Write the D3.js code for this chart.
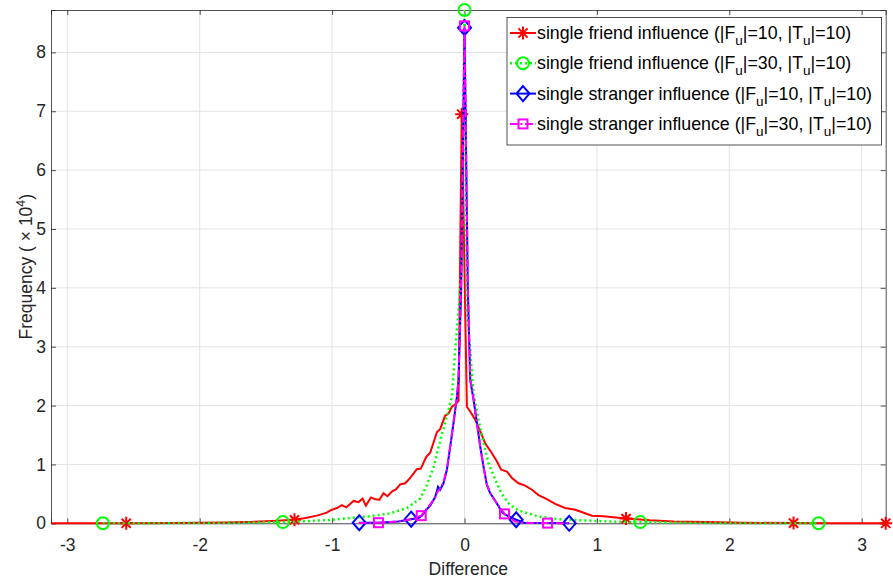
<!DOCTYPE html>
<html>
<head>
<meta charset="utf-8">
<script src="https://cdn.jsdelivr.net/npm/d3@7"></script>
<style>
  body { margin: 0; background: #fff; }
  text { font-family: "Liberation Sans", Arial, sans-serif; }
</style>
</head>
<body>
<div id="chart"></div>
<script>
// data (frequency in units of 10^4)
var xTicks = [-3, -2, -1, 0, 1, 2, 3];
var yTicks = [0, 1, 2, 3, 4, 5, 6, 7, 8];

var redX = [-3.123, -2.555, -2.2, -2.0, -1.8, -1.6, -1.45, -1.284, -1.2, -1.115, -1.04, -1.013, -0.964, -0.926, -0.893,
  -0.838, -0.80, -0.77, -0.745, -0.707, -0.674, -0.642, -0.612, -0.582, -0.548, -0.516, -0.486, -0.448, -0.41, -0.36,
  -0.33, -0.289, -0.259, -0.208, -0.184, -0.146, -0.121, -0.095, -0.07, -0.045, -0.021, 0.018, 0.043, 0.081, 0.119,
  0.156, 0.207, 0.245, 0.277, 0.32, 0.358, 0.408, 0.458, 0.509, 0.559, 0.622, 0.685, 0.76, 0.836, 0.911, 0.962, 1.05,
  1.22, 1.4, 1.58, 1.83, 2.1, 2.485, 2.8, 3.181];
var redY = [0, 0, 0.003, 0.008, 0.015, 0.025, 0.04, 0.06, 0.09, 0.13, 0.18, 0.22, 0.26, 0.31, 0.27,
  0.38, 0.36, 0.42, 0.30, 0.44, 0.41, 0.40, 0.51, 0.46, 0.54, 0.58, 0.66, 0.68, 0.77, 0.92,
  0.93, 1.13, 1.20, 1.55, 1.60, 1.83, 1.86, 1.98, 2.02, 2.08, 6.95, 1.98, 1.90, 1.76, 1.56,
  1.36, 1.19, 1.05, 0.91, 0.88, 0.77, 0.68, 0.64, 0.57, 0.48, 0.41, 0.33, 0.26, 0.23, 0.17, 0.13, 0.12,
  0.08, 0.05, 0.03, 0.02, 0.01, 0.003, 0, 0];
var redMarks = [1, 7, 40, 62, 67, 69];

var greenX = [-2.731, -2.2, -1.8, -1.372, -1.2, -0.99, -0.863, -0.712, -0.561, -0.435, -0.335, -0.284, -0.234, -0.184,
  -0.133, -0.095, -0.07, -0.045, -0.02, 0, 0.018, 0.043, 0.068, 0.106, 0.144, 0.181, 0.232, 0.282, 0.332, 0.383,
  0.434, 0.559, 0.71, 0.887, 1.1, 1.327, 1.8, 2.2, 2.674];
var greenY = [0, 0.003, 0.008, 0.02, 0.035, 0.06, 0.09, 0.12, 0.17, 0.26, 0.42, 0.65, 0.95, 1.40,
  1.82, 2.15, 2.95, 3.62, 4.4, 8.72, 3.62, 2.95, 2.2, 1.76, 1.36, 1.02, 0.74, 0.50, 0.34, 0.25,
  0.20, 0.115, 0.07, 0.05, 0.03, 0.02, 0.008, 0.003, 0];
var greenMarks = [0, 3, 19, 35, 38];

var blueX = [-0.795, -0.65, -0.5, -0.403, -0.347, -0.322, -0.284, -0.259, -0.221, -0.2, -0.184, -0.159, -0.133, -0.108,
  -0.083, -0.057, -0.045, -0.025, 0, 0.025, 0.043, 0.068, 0.094, 0.119, 0.144, 0.169, 0.194, 0.219, 0.257, 0.282,
  0.307, 0.39, 0.45, 0.51, 0.65, 0.791];
var blueY = [0.01, 0.01, 0.03, 0.07, 0.09, 0.13, 0.24, 0.30, 0.45, 0.62, 0.57, 0.68, 0.91, 1.30,
  1.70, 2.15, 2.44, 4.0, 8.42, 4.0, 2.44, 2.10, 1.70, 1.30, 0.96, 0.65, 0.51, 0.43, 0.29, 0.19,
  0.145, 0.06, 0.01, 0.005, 0.003, 0];
var blueMarks = [0, 3, 18, 31, 35];

var magX = [-0.80, -0.65, -0.5, -0.4, -0.327, -0.284, -0.259, -0.221, -0.2, -0.184, -0.159, -0.133, -0.108, -0.083,
  -0.057, -0.045, -0.025, 0, 0.025, 0.043, 0.068, 0.094, 0.119, 0.144, 0.169, 0.194, 0.219, 0.257, 0.302, 0.383,
  0.45, 0.51, 0.627, 0.79];
var magY = [0.005, 0.01, 0.03, 0.07, 0.13, 0.25, 0.32, 0.44, 0.55, 0.58, 0.70, 0.92, 1.31, 1.72,
  2.17, 2.45, 4.1, 8.45, 4.1, 2.45, 2.12, 1.70, 1.30, 0.95, 0.66, 0.52, 0.42, 0.30, 0.16, 0.03,
  0.01, 0.005, 0.003, 0];
var magMarks = [1, 4, 17, 28, 32];

var labels = [
  ['single friend influence (|F', '|=10, |T', '|=10)'],
  ['single friend influence (|F', '|=30, |T', '|=10)'],
  ['single stranger influence (|F', '|=10, |T', '|=10)'],
  ['single stranger influence (|F', '|=30, |T', '|=10)']
];

var width = 893, height = 582;
var margin = {top: 10, right: 7.3, bottom: 58.7, left: 51};
var w = width - margin.left - margin.right,
    h = height - margin.top - margin.bottom;

var svg = d3.select('#chart').append('svg')
    .attr('width', width)
    .attr('height', height);

var g = svg.append('g')
    .attr('transform', 'translate(' + margin.left + ',' + margin.top + ')');

var x = d3.scaleLinear().domain([-3.123, 3.181]).range([0, w]);
var y = d3.scaleLinear().domain([0, 8.72]).range([h, 0]);

var axisColor = '#262626';

// grid
g.selectAll('.gx').data(xTicks).enter().append('line')
    .attr('x1', function(d) { return x(d); }).attr('x2', function(d) { return x(d); })
    .attr('y1', 0).attr('y2', h)
    .attr('stroke', '#e3e3e3').attr('stroke-width', 1);
g.selectAll('.gy').data(yTicks).enter().append('line')
    .attr('y1', function(d) { return y(d); }).attr('y2', function(d) { return y(d); })
    .attr('x1', 0).attr('x2', w)
    .attr('stroke', '#e3e3e3').attr('stroke-width', 1);

// axes
var fmt = function(d) { return String(d); };
g.append('g').attr('transform', 'translate(0,' + h + ')')
    .call(d3.axisBottom(x).tickValues(xTicks).tickSize(-5).tickPadding(15).tickFormat(fmt));
g.append('g')
    .call(d3.axisLeft(y).tickValues(yTicks).tickSize(-5).tickPadding(5).tickFormat(fmt));
g.append('g').call(d3.axisTop(x).tickValues(xTicks).tickSize(-5).tickFormat(''));
g.append('g').attr('transform', 'translate(' + w + ',0)')
    .call(d3.axisRight(y).tickValues(yTicks).tickSize(-5).tickFormat(''));

g.selectAll('.domain').attr('stroke', axisColor).attr('stroke-width', 0.8);
g.selectAll('.tick line').attr('stroke', axisColor).attr('stroke-width', 0.8);
g.selectAll('.tick text').attr('fill', axisColor).style('font-size', '17.5px')
    .style('font-family', '"Liberation Sans", Arial, sans-serif');

// axis labels
svg.append('text')
    .attr('x', margin.left + w / 2).attr('y', 575)
    .attr('text-anchor', 'middle').attr('fill', axisColor)
    .style('font-size', '17.5px').text('Difference');

var yl = svg.append('text')
    .attr('transform', 'translate(32,' + (margin.top + h / 2) + ') rotate(-90)')
    .attr('text-anchor', 'middle').attr('fill', axisColor)
    .style('font-size', '17.5px');
yl.append('tspan').text('Frequency ( \u00d7 10');
yl.append('tspan').attr('dy', -7).style('font-size', '12.5px').text('4');
yl.append('tspan').attr('dy', 7).text(')');

// series
var series = [
  {xs: redX, ys: redY, marks: redMarks, color: '#ff0000', dash: null, marker: 'star'},
  {xs: greenX, ys: greenY, marks: greenMarks, color: '#00ff00', dash: '2,3', marker: 'circle'},
  {xs: blueX, ys: blueY, marks: blueMarks, color: '#0000ff', dash: null, marker: 'diamond'},
  {xs: magX, ys: magY, marks: magMarks, color: '#ff00ff', dash: '8,2.5,2,2.5', marker: 'square'}
];

var line = d3.line()
    .x(function(d) { return x(d[0]); })
    .y(function(d) { return y(d[1]); });

function drawMarker(sel, type, color) {
  if (type === 'star') {
    var r = 6.5, r2 = 4.6;
    sel.append('path')
      .attr('d', 'M' + (-r) + ',0H' + r + 'M0,' + (-r) + 'V' + r +
        'M' + (-r2) + ',' + (-r2) + 'L' + r2 + ',' + r2 + 'M' + (-r2) + ',' + r2 + 'L' + r2 + ',' + (-r2))
      .attr('stroke', color).attr('stroke-width', 2).attr('fill', 'none');
  } else if (type === 'circle') {
    sel.append('circle').attr('r', 6).attr('fill', 'none')
      .attr('stroke', color).attr('stroke-width', 2);
  } else if (type === 'diamond') {
    sel.append('path').attr('d', 'M0,-7.5L6.5,0L0,7.5L-6.5,0Z')
      .attr('fill', 'none').attr('stroke', color).attr('stroke-width', 2);
  } else {
    sel.append('rect').attr('x', -4.5).attr('y', -4.5).attr('width', 9).attr('height', 9)
      .attr('fill', 'none').attr('stroke', color).attr('stroke-width', 2);
  }
}

var plot = g.append('g');
series.forEach(function(s) {
  var pts = s.xs.map(function(v, i) { return [v, s.ys[i]]; });
  plot.append('path')
    .datum(pts)
    .attr('d', line)
    .attr('fill', 'none')
    .attr('stroke', s.color)
    .attr('stroke-width', s.marker === 'circle' ? 2.5 : 2)
    .attr('stroke-dasharray', s.dash);
  s.marks.forEach(function(i) {
    var m = plot.append('g').attr('transform', 'translate(' + x(pts[i][0]) + ',' + y(pts[i][1]) + ')');
    drawMarker(m, s.marker, s.color);
  });
});

// legend
var lg = svg.append('g').attr('transform', 'translate(507,17.5)');
lg.append('rect').attr('width', 374.5).attr('height', 127.5)
    .attr('fill', '#fff').attr('stroke', axisColor).attr('stroke-width', 0.8);
series.forEach(function(s, i) {
  var yy = 15.5 + i * 30.3;
  lg.append('line').attr('x1', 3).attr('x2', 29).attr('y1', yy).attr('y2', yy)
    .attr('stroke', s.color).attr('stroke-width', s.marker === 'circle' ? 2.5 : 2)
    .attr('stroke-dasharray', s.dash);
  drawMarker(lg.append('g').attr('transform', 'translate(16,' + yy + ')'), s.marker, s.color);
  var t = lg.append('text').attr('x', 30).attr('y', yy + 6)
    .attr('fill', '#000').style('font-size', '17.8px');
  t.append('tspan').text(labels[i][0]);
  t.append('tspan').attr('dy', 6).style('font-size', '13.5px').text('u');
  t.append('tspan').attr('dy', -6).text(labels[i][1]);
  t.append('tspan').attr('dy', 6).style('font-size', '13.5px').text('u');
  t.append('tspan').attr('dy', -6).text(labels[i][2]);
});
</script>
</body>
</html>
